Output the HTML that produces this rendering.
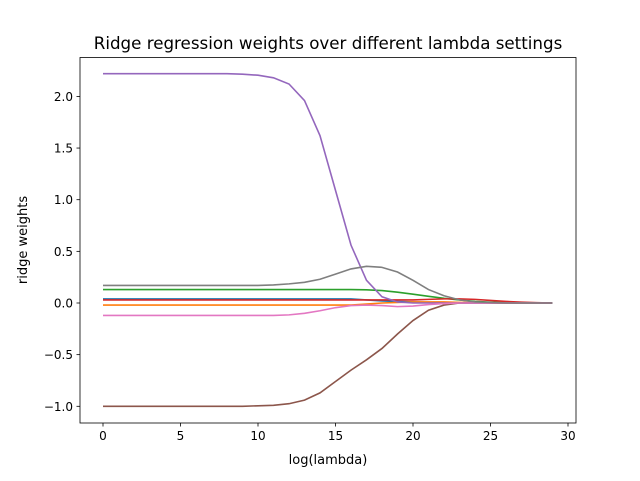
<!DOCTYPE html>
<html><head><meta charset="utf-8"><style>
body{margin:0;background:#fff;}
text{font-family:"DejaVu Sans","Liberation Sans",sans-serif;}
</style></head><body>
<svg id="chart" width="640" height="476">
<rect x="0" y="0" width="640" height="476" fill="#fff"/>
<text x="328" y="49" font-size="16.7" text-anchor="middle">Ridge regression weights over different lambda settings</text>
<g id="plot"></g>
<rect x="80" y="57.5" width="496" height="365.5" fill="none" stroke="#000" stroke-width="0.8"/>
<text x="328" y="464" font-size="13" text-anchor="middle">log(lambda)</text>
<text transform="translate(27,240) rotate(-90)" font-size="13" text-anchor="middle">ridge weights</text>
</svg>
<script>
const xTicks=[0,5,10,15,20,25,30];
const yTicks=[-1.0,-0.5,0.0,0.5,1.0,1.5,2.0];
const colors=['#1f77b4','#ff7f0e','#2ca02c','#d62728','#9467bd','#8c564b','#e377c2','#7f7f7f'];
const blue=[0.04,0.04,0.04,0.04,0.04,0.04,0.04,0.04,0.04,0.04,0.04,0.04,0.04,0.04,0.04,0.04,0.04,0.03,0.02,0.015,0.01,0.005,0,0,0,0,0,0,0,0];
const orange=[-0.02,-0.02,-0.02,-0.02,-0.02,-0.02,-0.02,-0.02,-0.02,-0.02,-0.02,-0.02,-0.02,-0.02,-0.02,-0.02,-0.02,-0.01,0,0.005,0.01,0.01,0.01,0.005,0.003,0.002,0.001,0,0,0];
const green=[0.13,0.13,0.13,0.13,0.13,0.13,0.13,0.13,0.13,0.13,0.13,0.13,0.13,0.13,0.13,0.13,0.13,0.128,0.12,0.105,0.085,0.065,0.045,0.03,0.015,0.008,0.003,0.001,0,0];
const red=[0.03,0.03,0.03,0.03,0.03,0.03,0.03,0.03,0.03,0.03,0.03,0.03,0.03,0.03,0.03,0.03,0.03,0.03,0.03,0.03,0.03,0.035,0.04,0.04,0.035,0.025,0.015,0.008,0.003,0];
const purple=[2.22,2.22,2.22,2.22,2.22,2.22,2.22,2.22,2.22,2.215,2.205,2.18,2.12,1.96,1.62,1.09,0.56,0.22,0.06,0.01,0,0,0,0,0,0,0,0,0,0];
const brown=[-1,-1,-1,-1,-1,-1,-1,-1,-1,-1,-0.995,-0.99,-0.975,-0.94,-0.87,-0.76,-0.65,-0.55,-0.44,-0.3,-0.17,-0.07,-0.02,0,0,0,0,0,0,0];
const pink=[-0.12,-0.12,-0.12,-0.12,-0.12,-0.12,-0.12,-0.12,-0.12,-0.12,-0.12,-0.12,-0.115,-0.1,-0.075,-0.045,-0.025,-0.02,-0.025,-0.035,-0.03,-0.015,-0.005,0,0,0,0,0,0,0];
const gray=[0.17,0.17,0.17,0.17,0.17,0.17,0.17,0.17,0.17,0.17,0.17,0.175,0.185,0.2,0.23,0.28,0.33,0.355,0.345,0.3,0.22,0.13,0.07,0.03,0.01,0.005,0,0,0,0];
const series=[blue,orange,green,red,purple,brown,pink,gray];
const names=['weight-1','weight-2','weight-3','weight-4','weight-5','weight-6','weight-7','weight-8'];
const xs=v=>103+v*15.5;
const ys=v=>303-v*103.3;
const NS='http://www.w3.org/2000/svg';
const g=document.getElementById('plot');
function mk(t,a){const e=document.createElementNS(NS,t);for(const k in a)e.setAttribute(k,a[k]);return e;}
xTicks.forEach(t=>{
 const l=mk('line',{x1:xs(t),x2:xs(t),y1:423,y2:426.5,stroke:'#000','stroke-width':0.8});
 
 
 g.appendChild(l);
 const tx=mk('text',{x:xs(t),y:440,'font-size':12,'text-anchor':'middle'});
 tx.textContent=t;
 
 
 g.appendChild(tx);
});
yTicks.forEach(t=>{
 const l=mk('line',{x1:76.5,x2:80,y1:ys(t),y2:ys(t),stroke:'#000','stroke-width':0.8});
 
 
 g.appendChild(l);
 const tx=mk('text',{x:73,y:ys(t)+4.5,'font-size':12,'text-anchor':'end'});
 tx.textContent=(t<0?'\u2212':'')+Math.abs(t).toFixed(1);
 
 
 g.appendChild(tx);
});
series.forEach((s,i)=>{
 const p=mk('polyline',{points:s.map((v,j)=>xs(j)+','+ys(v)).join(' '),fill:'none',stroke:colors[i],'stroke-width':1.6});
 
 
 g.appendChild(p);
});
</script>
</body></html>
